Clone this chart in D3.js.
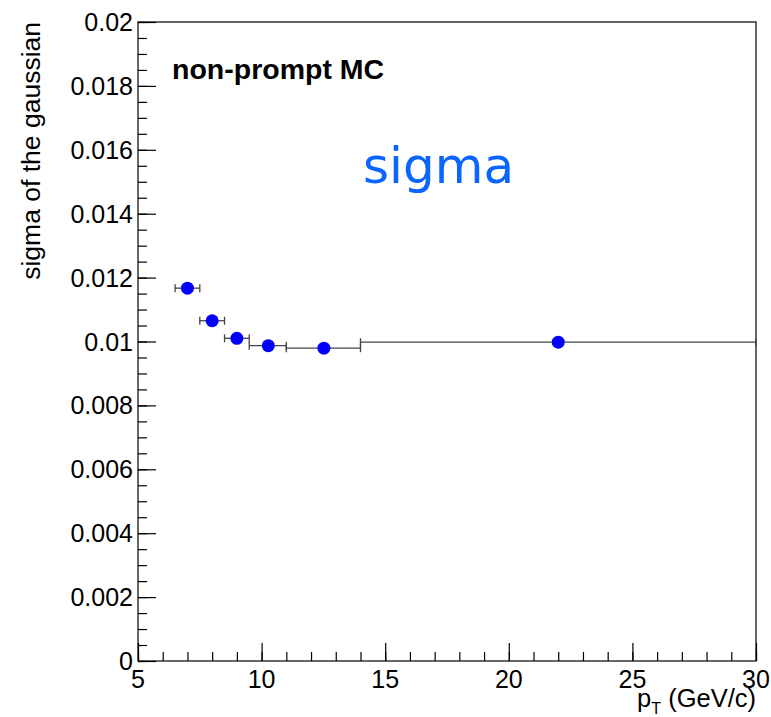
<!DOCTYPE html>
<html><head><meta charset="utf-8">
<script src="https://cdn.jsdelivr.net/npm/d3@7"></script>
<style>body{margin:0;background:#fff;} svg{display:block;}</style>
</head><body>
<script>
// Data
const ptCenter = [7.0, 8.0, 9.0, 10.27, 12.52, 22.0];
const ptLow    = [6.5, 7.5, 8.5, 9.5, 11.0, 14.0];
const ptHigh   = [7.5, 8.5, 9.5, 11.0, 14.0, 30.0];
const sigmaVal = [0.01167, 0.01065, 0.0101, 0.00987, 0.00979, 0.00998];
const xMajorTicks = [5, 10, 15, 20, 25, 30];
const yMajorTicks = [0, 0.002, 0.004, 0.006, 0.008, 0.01, 0.012, 0.014, 0.016, 0.018, 0.02];
const yTickLabels = ["0","0.002","0.004","0.006","0.008","0.01","0.012","0.014","0.016","0.018","0.02"];

const W = 771, H = 717;
const L = 138, R = 756, T = 22, B = 661;
const svg = d3.select("body").append("svg").attr("width", W).attr("height", H);
const x = d3.scaleLinear().domain([5, 30]).range([L, R]);
const y = d3.scaleLinear().domain([0, 0.02]).range([B, T]);
const font = "'Liberation Sans', Arial, Helvetica, sans-serif";

// frame
svg.append("rect").attr("x", L).attr("y", T).attr("width", R - L).attr("height", B - T)
  .attr("fill", "none").attr("stroke", "#000").attr("stroke-width", 1.2);

// x axis
const xMinor = d3.range(5, 30.001, 1);
const gx = svg.append("g").attr("transform", `translate(0,${B})`);
gx.call(d3.axisBottom(x).tickValues(xMinor).tickSize(-9).tickFormat(""))
  .call(g => g.select(".domain").remove());
gx.append("g").call(d3.axisBottom(x).tickValues(xMajorTicks).tickSize(-18).tickFormat(""))
  .call(g => g.select(".domain").remove());
gx.selectAll("line").attr("stroke", "#000").attr("stroke-width", 1.2);
svg.append("g").selectAll("text").data(xMajorTicks).join("text")
  .attr("x", d => x(d)).attr("y", 688).attr("text-anchor", "middle")
  .attr("font-family", font).attr("font-size", 25).text(d => d);

// y axis
const yMinor = d3.range(0, 0.02001, 0.0005);
const gy = svg.append("g").attr("transform", `translate(${L},0)`);
gy.call(d3.axisLeft(y).tickValues(yMinor).tickSize(-9).tickFormat(""))
  .call(g => g.select(".domain").remove());
gy.append("g").call(d3.axisLeft(y).tickValues(yMajorTicks).tickSize(-18).tickFormat(""))
  .call(g => g.select(".domain").remove());
gy.selectAll("line").attr("stroke", "#000").attr("stroke-width", 1.2);
svg.append("g").selectAll("text").data(yMajorTicks).join("text")
  .attr("x", 133).attr("y", d => y(d) + 9).attr("text-anchor", "end")
  .attr("font-family", font).attr("font-size", 25).text((d, i) => yTickLabels[i]);

// axis titles
svg.append("text").attr("transform", `translate(40,${T}) rotate(-90)`)
  .attr("text-anchor", "end").attr("font-family", font).attr("font-size", 26.5)
  .text("sigma of the gaussian");
const xt = svg.append("text").attr("x", R).attr("y", 707).attr("text-anchor", "end")
  .attr("font-family", font).attr("font-size", 25.5);
xt.append("tspan").text("p");
xt.append("tspan").attr("font-size", 16).attr("dy", 7).text("T");
xt.append("tspan").attr("dy", -7).text(" (GeV/c)");

// labels
svg.append("text").attr("x", 172).attr("y", 79).attr("font-family", font)
  .attr("font-weight", "bold").attr("font-size", 28.5).text("non-prompt MC");
svg.append("text").attr("x", 363).attr("y", 183).attr("font-family", "'DejaVu Sans', sans-serif")
  .attr("font-size", 50).attr("fill", "#0a64ff").text("sigma");

// error bars
const data = ptCenter.map((c, i) => ({c, lo: ptLow[i], hi: ptHigh[i], v: sigmaVal[i]}));
const eb = svg.append("g").attr("stroke", "#444").attr("stroke-width", 1.3);
eb.selectAll("line.h").data(data).join("line").attr("class", "h")
  .attr("x1", d => x(d.lo)).attr("x2", d => x(d.hi)).attr("y1", d => y(d.v)).attr("y2", d => y(d.v));
eb.selectAll("line.cl").data(data).join("line").attr("class", "cl")
  .attr("x1", d => x(d.lo)).attr("x2", d => x(d.lo)).attr("y1", d => y(d.v) - 4).attr("y2", d => y(d.v) + 4);
eb.selectAll("line.ch").data(data).join("line").attr("class", "ch")
  .attr("x1", d => x(d.hi)).attr("x2", d => x(d.hi)).attr("y1", d => y(d.v) - 4).attr("y2", d => y(d.v) + 4);

// markers
svg.append("g").selectAll("circle").data(data).join("circle")
  .attr("cx", d => x(d.c)).attr("cy", d => y(d.v)).attr("r", 6.5).attr("fill", "#0000ff");
</script>
</body></html>
